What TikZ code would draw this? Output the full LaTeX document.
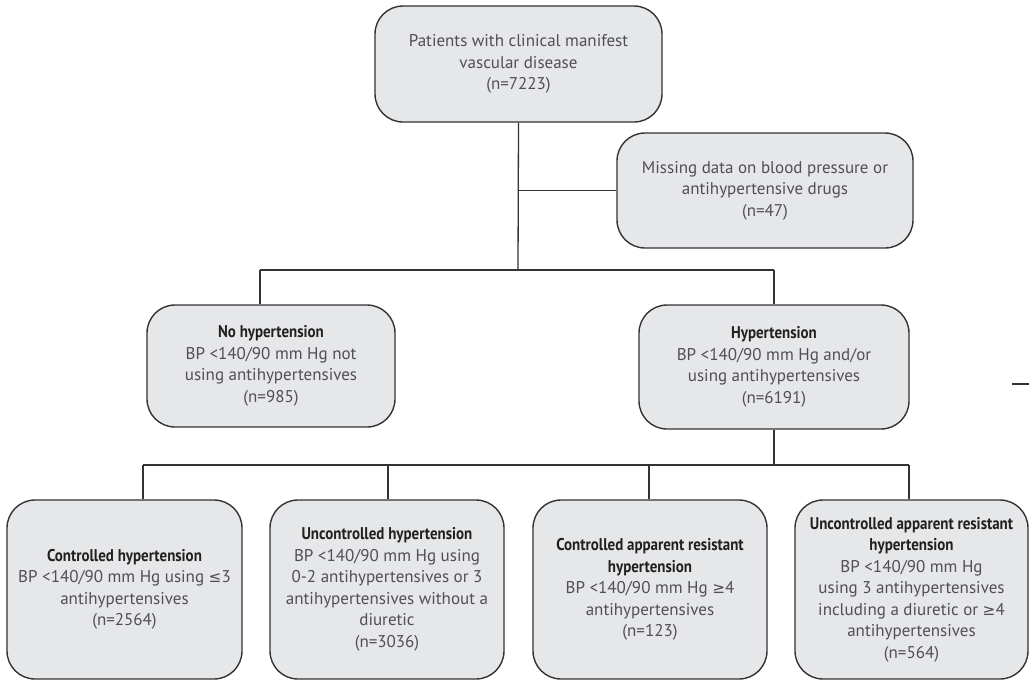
\documentclass[tikz,border=0pt]{standalone}
\usepackage{fontspec}
\setmainfont{PT Sans}
\newfontfamily\headfont{PT Sans}[FakeStretch=0.88]
\newfontfamily\symfont{DejaVu Sans}[Scale=0.9]
\definecolor{boxfill}{HTML}{E6E7E8}
\definecolor{boxline}{HTML}{333335}
\definecolor{bodytext}{HTML}{505052}
\definecolor{headtext}{HTML}{231F20}
\newcommand{\hd}[1]{{\headfont\bfseries\color{headtext}#1}}
\newcommand{\rel}[1]{{\symfont#1}}
\tikzset{
  flowbox/.style={draw=boxline, fill=boxfill, line width=1.4pt, rounded corners=28pt,
    align=center, text=bodytext, inner sep=2pt,
    font=\fontsize{17}{21.5}\selectfont},
  link/.style={draw=boxline, line width=1.3pt}
}
\begin{document}
\begin{tikzpicture}[x=1pt,y=-1pt]
\useasboundingbox (0,0) rectangle (1029,681);

% first row
\node[flowbox, minimum width=287pt, minimum height=116pt] (all) at (518.5,64)
  {Patients with clinical manifest\\vascular disease\\(n=7223)};
\node[flowbox, minimum width=296pt, minimum height=115pt] (miss) at (765,190.5)
  {Missing data on blood pressure or\\antihypertensive drugs\\(n=47)};

% second row
\node[flowbox, minimum width=248pt, minimum height=122pt] (noht) at (271,366)
  {\hd{No hypertension}\\BP <140/90 mm Hg not\\using antihypertensives\\(n=985)};
\node[flowbox, minimum width=270pt, minimum height=124pt] (ht) at (774,367)
  {\hd{Hypertension}\\BP <140/90 mm Hg and/or\\using antihypertensives\\(n=6191)};

% third row
\node[flowbox, minimum width=235pt, minimum height=179pt] (ctrl) at (124.5,589.5)
  {\hd{Controlled hypertension}\\BP <140/90 mm Hg using \rel{≤}3\\antihypertensives\\(n=2564)};
\node[flowbox, minimum width=234pt, minimum height=179pt] (unctrl) at (387,589.5)
  {\hd{Uncontrolled hypertension}\\BP <140/90 mm Hg using\\0-2 antihypertensives or 3\\antihypertensives without a\\diuretic\\(n=3036)};
\node[flowbox, minimum width=234pt, minimum height=179pt] (cres) at (650,589.5)
  {\hd{Controlled apparent resistant}\\\hd{hypertension}\\BP <140/90 mm Hg \rel{≥}4\\antihypertensives\\(n=123)};
\node[flowbox, minimum width=233pt, minimum height=179pt] (ures) at (911.5,589.5)
  {\hd{Uncontrolled apparent resistant}\\\hd{hypertension}\\BP <140/90 mm Hg\\using 3 antihypertensives\\including a diuretic or \rel{≥}4\\antihypertensives\\(n=564)};

% junction points
\coordinate (split1) at (518,270);
\coordinate (excl) at (518,190.5);
\coordinate (split2) at (774,465);
\coordinate (tickA) at (1012,384);
\coordinate (tickB) at (1029,384);

% connectors
\draw[link] (all.south) -- (split1);
\draw[link] (excl) -- (miss.west);
\draw[link] (260,270) coordinate (l1) -- (split1) -- (774,270) coordinate (r1);
\draw[link] (l1) -- (l1 |- noht.north);
\draw[link] (r1) -- (ht.north);
\draw[link] (ht.south) -- (split2);
\draw[link] (143,465) coordinate (b1) -- (909,465) coordinate (b4);
\draw[link] (b1) -- (b1 |- ctrl.north);
\draw[link] (388,465) coordinate (b2) -- (b2 |- unctrl.north);
\draw[link] (649,465) coordinate (b3) -- (b3 |- cres.north);
\draw[link] (b4) -- (b4 |- ures.north);
\draw[link] (tickA) -- (tickB);
\end{tikzpicture}
\end{document}
